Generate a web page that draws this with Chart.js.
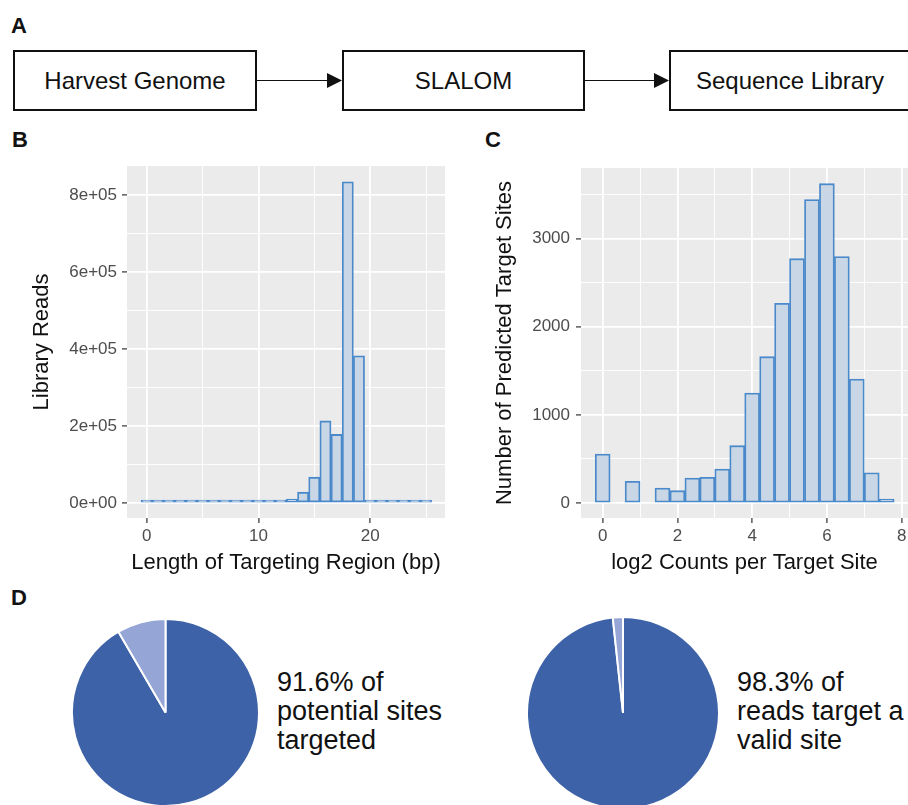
<!DOCTYPE html>
<html>
<head>
<meta charset="utf-8">
<script src="https://cdn.jsdelivr.net/npm/chart.js@4.4.0/dist/chart.umd.min.js"></script>
<style>
  html, body { margin: 0; padding: 0; background: #fff; width: 908px; height: 805px; overflow: hidden; }
  body { position: relative; font-family: "Liberation Sans", Arial, Helvetica, sans-serif; color: #111; }
  .lbl { position: absolute; font-weight: bold; font-size: 22px; line-height: 22px; }
  .box { position: absolute; top: 50px; height: 61px; box-sizing: border-box; border: 2px solid #111;
         display: flex; align-items: center; justify-content: center; font-size: 24px; white-space: nowrap; }
  .wrap { position: absolute; }
  .note { position: absolute; top: 668px; font-size: 27px; line-height: 29px; white-space: nowrap; }
  svg { position: absolute; left: 0; top: 0; }
</style>
</head>
<body>
<div class="lbl" style="left:11px; top:15px;">A</div>
<div class="lbl" style="left:12px; top:129px;">B</div>
<div class="lbl" style="left:485px; top:129px;">C</div>
<div class="lbl" style="left:11px; top:587px;">D</div>

<div class="box" style="left:13px; width:244px;">Harvest Genome</div>
<div class="box" style="left:342px; width:243px;">SLALOM</div>
<div class="box" style="left:669px; width:242px;">Sequence Library</div>
<svg width="908" height="130">
  <line x1="257" y1="80.5" x2="328" y2="80.5" stroke="#111" stroke-width="1.2"/>
  <polygon points="327,73 342,80.5 327,88" fill="#111"/>
  <line x1="585" y1="80.5" x2="655" y2="80.5" stroke="#111" stroke-width="1.2"/>
  <polygon points="654,73 669,80.5 654,88" fill="#111"/>
</svg>

<div class="wrap" style="left:0px; top:150px; width:454px; height:440px;"><canvas id="lengthChart"></canvas></div>
<div class="wrap" style="left:454px; top:150px; width:454px; height:440px;"><canvas id="countChart"></canvas></div>
<div class="wrap" style="left:71px; top:618px; width:189px; height:189px;"><canvas id="sitesPie"></canvas></div>
<div class="wrap" style="left:526px; top:616px; width:194px; height:194px;"><canvas id="readsPie"></canvas></div>

<div class="note" style="left:277px;">91.6% of<br>potential sites<br>targeted</div>
<div class="note" style="left:737px;">98.3% of<br>reads target a<br>valid site</div>

<script>
// B: library reads by length of targeting region
const lengthBins = [0, 1, 2, 3, 4, 5, 6, 7, 8, 9, 10, 11, 12, 13, 14, 15, 16, 17, 18, 19, 20, 21, 22, 23, 24, 25];
const libraryReads = [500, 300, 1500, 800, 500, 600, 700, 800, 900, 1000, 1500, 2500, 4000, 10000, 28000,
                      67000, 213000, 178000, 834000, 382000, 4000, 1000, 500, 300, 200, 200];
const readsTicks = [0, 100000, 200000, 300000, 400000, 500000, 600000, 700000, 800000];
const readsMajor = [0, 200000, 400000, 600000, 800000];
const readsLabels = ["0e+00", "2e+05", "4e+05", "6e+05", "8e+05"];
const lengthTicks = [0, 5, 10, 15, 20, 25];
const lengthMajor = [0, 10, 20];
const lengthLabels = ["0", "10", "20"];

// C: predicted target sites by log2 counts
const log2Bins = [0, 0.4, 0.8, 1.2, 1.6, 2.0, 2.4, 2.8, 3.2, 3.6, 4.0, 4.4, 4.8, 5.2, 5.6, 6.0, 6.4, 6.8, 7.2, 7.6];
const siteCounts = [556, 0, 246, 0, 170, 140, 284, 291, 386, 651, 1248, 1661, 2266, 2773, 3443, 3624, 2796, 1407, 344, 45];
const siteTicks = [0, 500, 1000, 1500, 2000, 2500, 3000, 3500];
const siteMajor = [0, 1000, 2000, 3000];
const siteLabels = ["0", "1000", "2000", "3000"];
const log2Ticks = [0, 1, 2, 3, 4, 5, 6, 7, 8];
const log2Major = [0, 2, 4, 6, 8];
const log2Labels = ["0", "2", "4", "6", "8"];

// D: pies
const pieLabels = ["yes", "no"];
const sitesTargeted = [91.6, 8.4];
const readsValid = [98.3, 1.7];

const barFill = "#C8D6E5";
const barLine = "#4A89CA";

// grey ggplot panel behind the bars
const panelBg = {
    id: "panelBg",
    beforeDraw(chart) {
        const a = chart.chartArea;
        const ctx = chart.ctx;
        ctx.save();
        ctx.fillStyle = "#EBEBEB";
        ctx.fillRect(a.left, a.top, a.right - a.left, a.bottom - a.top);
        ctx.restore();
    }
};

function axis(ticks, major, labels, min, max, title, size, pad, titlePad) {
    const isMajor = function (v) { return major.indexOf(v) !== -1; };
    return {
        type: "linear",
        min: min,
        max: max,
        offset: false,
        afterBuildTicks: function (s) { s.ticks = ticks.map(function (v) { return { value: v }; }); },
        afterFit: function (s) {
            if (s.isHorizontal()) s.height = size; else s.width = size;
            s.paddingLeft = 0; s.paddingRight = 0; s.paddingTop = 0; s.paddingBottom = 0;
        },
        ticks: {
            autoSkip: false,
            maxRotation: 0,
            padding: pad,
            color: "#4D4D4D",
            font: { size: 17 },
            callback: function (v) { return isMajor(v) ? labels[major.indexOf(v)] : ""; }
        },
        grid: {
            offset: false,
            color: "#FFFFFF",
            lineWidth: function (c) { return c.tick && isMajor(c.tick.value) ? 1.8 : 0.9; },
            tickColor: function (c) { return c.tick && isMajor(c.tick.value) ? "#333333" : "rgba(0,0,0,0)"; },
            tickLength: 5,
            tickWidth: 1.2
        },
        border: { display: false },
        title: { display: true, text: title, color: "#111", font: { size: 22 }, padding: titlePad }
    };
}

function histogram(id, xs, ys, xAxis, yAxis, pad, minLen) {
    new Chart(document.getElementById(id), {
        type: "bar",
        data: {
            datasets: [{
                data: xs.map(function (x, i) { return { x: x, y: ys[i] }; }),
                backgroundColor: barFill,
                borderColor: barLine,
                borderWidth: 1.8,
                borderSkipped: false,
                minBarLength: minLen,
                barPercentage: 1,
                categoryPercentage: 1
            }]
        },
        options: {
            responsive: true,
            maintainAspectRatio: false,
            animation: false,
            layout: { padding: pad },
            plugins: { legend: { display: false }, tooltip: { enabled: false } },
            scales: { x: xAxis, y: yAxis }
        },
        plugins: [panelBg]
    });
}

histogram("lengthChart", lengthBins, libraryReads,
    axis(lengthTicks, lengthMajor, lengthLabels, -1.76, 26.7, "Length of Targeting Region (bp)", 72, 3, { top: 0, bottom: 14 }),
    axis(readsTicks, readsMajor, readsLabels, -39000, 875000, "Library Reads", 127, 5, { top: 29, bottom: 0 }),
    { left: 0, top: 16, right: 9, bottom: 0 }, 2.8);

histogram("countChart", log2Bins, siteCounts,
    axis(log2Ticks, log2Major, log2Labels, -0.58, 8.17, "log2 Counts per Target Site", 72, 3, { top: 0, bottom: 14 }),
    axis(siteTicks, siteMajor, siteLabels, -170, 3802, "Number of Predicted Target Sites", 127, 6, { top: 38, bottom: 0 }),
    { left: 0, top: 18, right: 0, bottom: 0 }, 0);

function pie(id, values) {
    new Chart(document.getElementById(id), {
        type: "pie",
        data: {
            labels: pieLabels,
            datasets: [{
                data: values,
                backgroundColor: ["#3D62A7", "#94A5D6"],
                borderColor: "#FFFFFF",
                borderWidth: 2
            }]
        },
        options: {
            responsive: true,
            maintainAspectRatio: false,
            animation: false,
            layout: { padding: 0 },
            plugins: { legend: { display: false }, tooltip: { enabled: false } }
        }
    });
}

pie("sitesPie", sitesTargeted);
pie("readsPie", readsValid);
</script>
</body>
</html>
